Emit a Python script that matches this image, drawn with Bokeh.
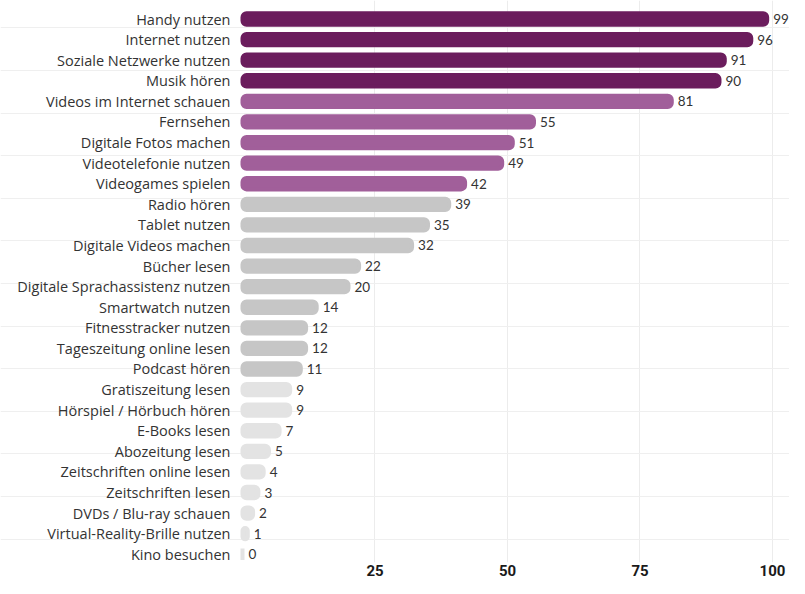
from bokeh.plotting import figure
from bokeh.models import Range1d, FixedTicker, ColumnDataSource
from bokeh.core.properties import value
from bokeh.embed import file_html
from bokeh.resources import INLINE

categories = [
    "Handy nutzen", "Internet nutzen", "Soziale Netzwerke nutzen", "Musik hören",
    "Videos im Internet schauen", "Fernsehen", "Digitale Fotos machen",
    "Videotelefonie nutzen", "Videogames spielen", "Radio hören", "Tablet nutzen",
    "Digitale Videos machen", "Bücher lesen", "Digitale Sprachassistenz nutzen",
    "Smartwatch nutzen", "Fitnesstracker nutzen", "Tageszeitung online lesen",
    "Podcast hören", "Gratiszeitung lesen", "Hörspiel / Hörbuch hören",
    "E-Books lesen", "Abozeitung lesen", "Zeitschriften online lesen",
    "Zeitschriften lesen", "DVDs / Blu-ray schauen",
    "Virtual-Reality-Brille nutzen", "Kino besuchen",
]
values = [99, 96, 91, 90, 81, 55, 51, 49, 42, 39, 35, 32, 22, 20, 14, 12, 12, 11,
          9, 9, 7, 5, 4, 3, 2, 1, 0]
groups = (["top"] * 4) + (["mid"] * 5) + (["gray"] * 9) + (["light"] * 9)
x_ticks = [25, 50, 75, 100]

palette = {"top": "#6b1d5d", "mid": "#a15f9a", "gray": "#c6c6c6", "light": "#e3e3e3"}

src = ColumnDataSource(dict(
    y=list(range(len(categories))),
    cat=categories,
    val=values,
    lab=[str(v) for v in values],
    color=[palette[g] for g in groups],
))

p = figure(width=789, height=578, output_backend="svg", toolbar_location=None,
           x_range=Range1d(-45.66, 103.21), y_range=Range1d(26.40, -0.90),
           min_border_left=0, min_border_right=0, min_border_top=0,
           min_border_bottom=0)
p.outline_line_color = None
p.background_fill_color = "white"

p.hbar(y="y", left=0, right="val", height=0.55, fill_color="color",
       line_color="color", line_width=4, border_radius=4, source=src)

p.text(x=0, y="y", text="cat", x_offset=-12, text_align="right",
       text_baseline="middle", text_font=value("Open Sans"),
       text_font_size="14.5px", text_color="#333333", source=src)
p.text(x="val", y="y", text="lab", x_offset=6, text_align="left",
       text_baseline="middle", text_font=value("Lato"),
       text_font_size="13.5px", text_color="#333333", source=src)

p.yaxis.visible = False
p.xaxis.ticker = FixedTicker(ticks=x_ticks)
p.xaxis.axis_line_color = None
p.xaxis.major_tick_line_color = None
p.xaxis.minor_tick_line_color = None
p.xaxis.major_tick_out = 0
p.xaxis.major_tick_in = 0
p.xaxis.major_label_standoff = 2
p.xaxis.major_label_text_font = "Roboto"
p.xaxis.major_label_text_font_style = "bold"
p.xaxis.major_label_text_font_size = "15px"
p.xaxis.major_label_text_color = "#1a1a1a"

p.xgrid.ticker = FixedTicker(ticks=x_ticks)
p.xgrid.grid_line_color = "#ececec"
p.ygrid.ticker = FixedTicker(ticks=[25.26 - 2.069 * k for k in range(13)])
p.ygrid.grid_line_color = "#efefef"

open("out.html", "w").write(file_html(p, INLINE))
